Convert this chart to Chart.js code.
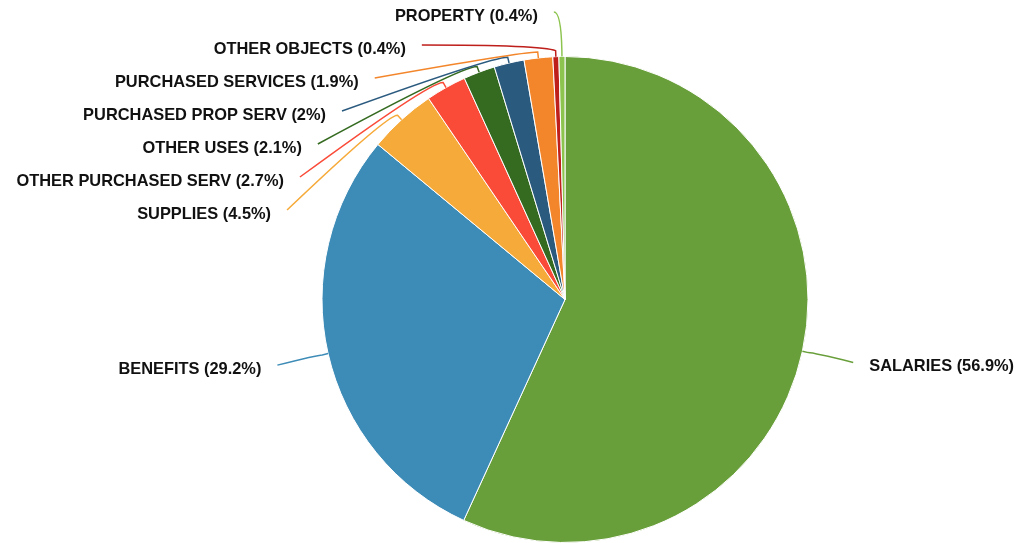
<!DOCTYPE html>
<html>
<head>
<meta charset="utf-8">
<title>Expenditures by Object</title>
<script src="https://cdn.jsdelivr.net/npm/chart.js@4/dist/chart.umd.min.js"></script>
<style>
  html, body { margin: 0; padding: 0; background: #fff; }
  #wrap { position: relative; width: 1016px; height: 543px; }
</style>
</head>
<body>
<div id="wrap"><canvas id="pieChart"></canvas></div>
<script>
var categories = ["SALARIES", "BENEFITS", "SUPPLIES", "OTHER PURCHASED SERV", "OTHER USES",
  "PURCHASED PROP SERV", "PURCHASED SERVICES", "OTHER OBJECTS", "PROPERTY"];
var shares = [56.9, 29.2, 4.5, 2.7, 2.1, 2, 1.9, 0.4, 0.4];
var sliceColors = ["#699f3a", "#3d8bb7", "#f6aa39", "#fa4b38", "#356b21", "#2b5a7f", "#f3862b", "#be1f1b", "#8dc450"];

// callout labels: big slices get a radial leader, the small ones are stacked in a column at the top left
var calloutPlugin = {
  id: "callouts",
  afterDatasetsDraw: function (chart) {
    var ctx = chart.ctx;
    var arcs = chart.getDatasetMeta(0).data;
    var stackTop = 12, stackGap = 33;
    var stacked = [];
    arcs.forEach(function (arc, i) { if (shares[i] < 5) stacked.push(i); });
    stacked.reverse();

    ctx.save();
    ctx.font = "bold 16.4px 'Liberation Sans', Arial, Helvetica, sans-serif";
    ctx.textBaseline = "middle";
    arcs.forEach(function (arc, i) {
      var mid = (arc.startAngle + arc.endAngle) / 2;
      var dx = Math.cos(mid), dy = Math.sin(mid);
      var r = arc.outerRadius;
      var p0 = { x: arc.x + dx * r, y: arc.y + dy * r };
      var p1 = { x: arc.x + dx * (r + 6), y: arc.y + dy * (r + 6) };
      var end, left = dx < 0;
      var k = stacked.indexOf(i);
      if (k >= 0) {
        var R = r + 49;
        var ey = stackTop + k * stackGap;
        var off = ey - arc.y;
        if (Math.abs(off) > R * 0.96) {
          end = { x: p1.x - 8, y: ey };
        } else {
          end = { x: arc.x - Math.sqrt(R * R - off * off), y: ey };
        }
        left = true;
      } else {
        end = { x: arc.x + dx * (r + 52), y: arc.y + dy * (r + 52) };
      }
      var ctrl = { x: p1.x + (end.x - p1.x) * 0.1, y: Math.min(p1.y, end.y) };
      ctx.strokeStyle = sliceColors[i];
      ctx.lineWidth = 1.5;
      ctx.beginPath();
      ctx.moveTo(p0.x, p0.y);
      ctx.lineTo(p1.x, p1.y);
      ctx.quadraticCurveTo(ctrl.x, ctrl.y, end.x, end.y);
      ctx.stroke();

      ctx.fillStyle = "#111";
      ctx.textAlign = left ? "right" : "left";
      ctx.fillText(categories[i] + " (" + shares[i] + "%)", end.x + (left ? -16 : 16), end.y + 4);
    });
    ctx.restore();
  }
};

new Chart(document.getElementById("pieChart"), {
  type: "pie",
  data: {
    labels: categories,
    datasets: [{ data: shares, backgroundColor: sliceColors, borderColor: "#fff", borderWidth: 1 }]
  },
  options: {
    responsive: true,
    maintainAspectRatio: false,
    animation: false,
    layout: { padding: { top: 56, left: 114, right: 0, bottom: 0 } },
    plugins: { legend: { display: false }, tooltip: { enabled: false } }
  },
  plugins: [calloutPlugin]
});
</script>
</body>
</html>
